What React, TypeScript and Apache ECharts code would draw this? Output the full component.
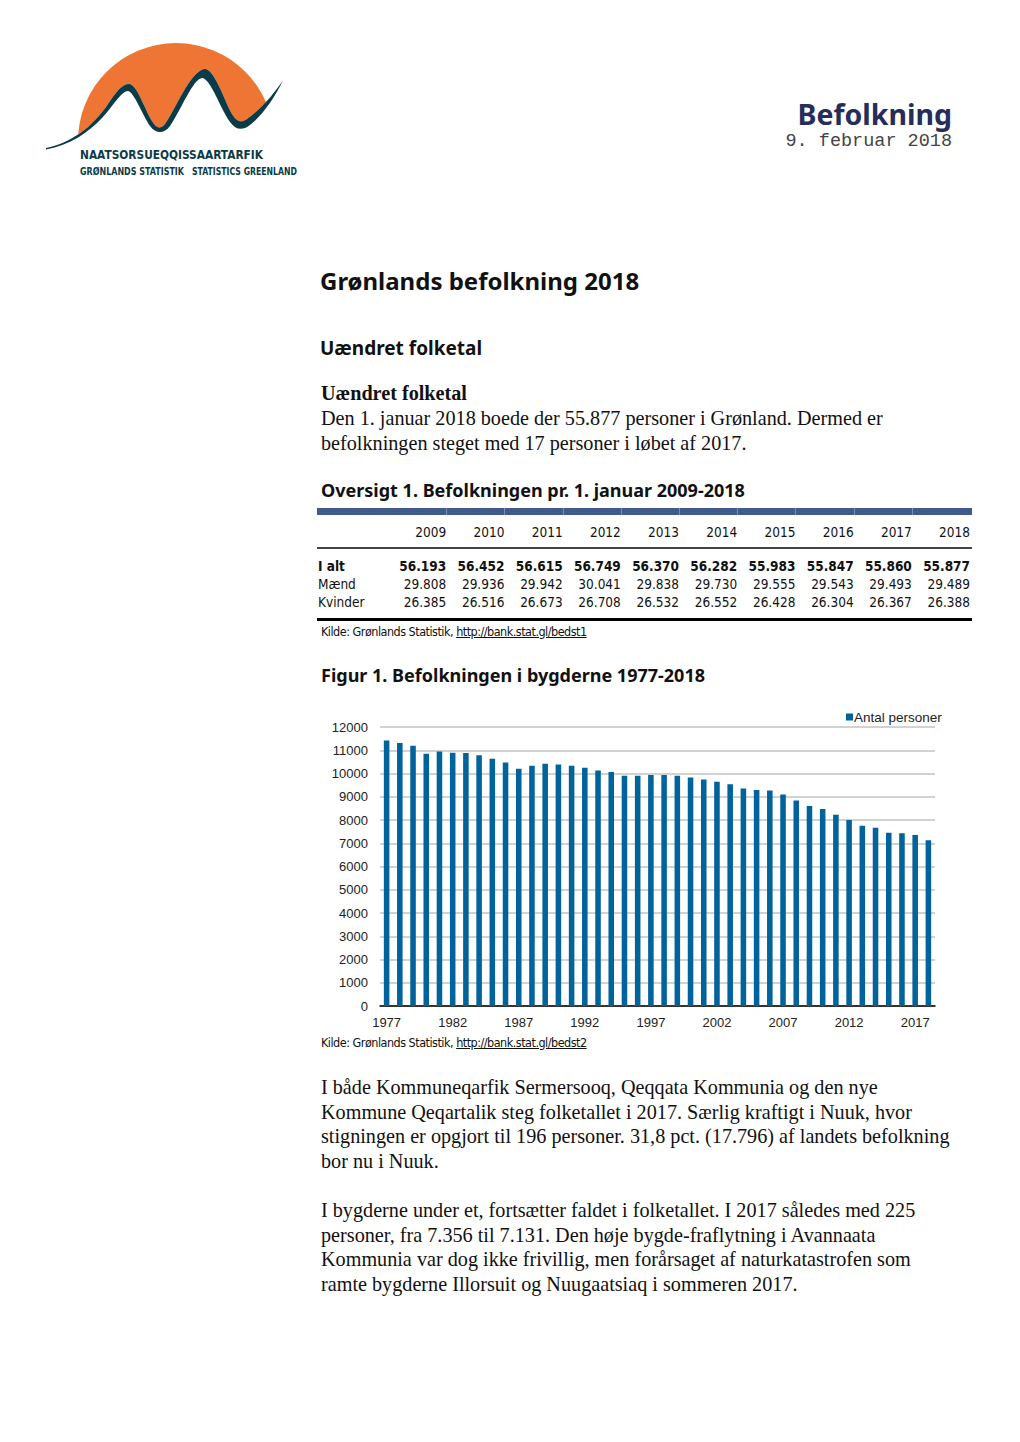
import React, { useEffect, useRef } from "react";
import * as echarts from "echarts";

// ---- Chart data (Figur 1) ----
const years: string[] = [
  "1977","1978","1979","1980","1981","1982","1983","1984","1985","1986",
  "1987","1988","1989","1990","1991","1992","1993","1994","1995","1996",
  "1997","1998","1999","2000","2001","2002","2003","2004","2005","2006",
  "2007","2008","2009","2010","2011","2012","2013","2014","2015","2016",
  "2017","2018",
];
const antalPersoner: number[] = [
  11420, 11310, 11195, 10850, 10950, 10890, 10880, 10790, 10630, 10475,
  10200, 10330, 10420, 10390, 10330, 10245, 10130, 10060, 9900, 9900,
  9940, 9940, 9900, 9830, 9740, 9640, 9540, 9350, 9295, 9265,
  9095, 8835, 8605, 8475, 8230, 8000, 7755, 7670, 7455, 7425,
  7356, 7131,
];
const seriesName = "Antal personer";

// ---- Table data (Oversigt 1) ----
const tableYears: string[] = ["2009","2010","2011","2012","2013","2014","2015","2016","2017","2018"];
const iAlt: string[] = ["56.193","56.452","56.615","56.749","56.370","56.282","55.983","55.847","55.860","55.877"];
const maend: string[] = ["29.808","29.936","29.942","30.041","29.838","29.730","29.555","29.543","29.493","29.489"];
const kvinder: string[] = ["26.385","26.516","26.673","26.708","26.532","26.552","26.428","26.304","26.367","26.388"];

const para1: string[] = [
  "Den 1. januar 2018 boede der 55.877 personer i Grønland. Dermed er",
  "befolkningen steget med 17 personer i løbet af 2017.",
];
const para2: string[] = [
  "I både Kommuneqarfik Sermersooq, Qeqqata Kommunia og den nye",
  "Kommune Qeqartalik steg folketallet i 2017. Særlig kraftigt i Nuuk, hvor",
  "stigningen er opgjort til 196 personer. 31,8 pct. (17.796) af landets befolkning",
  "bor nu i Nuuk.",
];
const para3: string[] = [
  "I bygderne under et, fortsætter faldet i folketallet. I 2017 således med 225",
  "personer, fra 7.356 til 7.131. Den høje bygde-fraflytning i Avannaata",
  "Kommunia var dog ikke frivillig, men forårsaget af naturkatastrofen som",
  "ramte bygderne Illorsuit og Nuugaatsiaq i sommeren 2017.",
];

const SANS = '"Noto Sans", "Open Sans", sans-serif';
const SERIF = '"Liberation Serif", "DejaVu Serif", serif';
const COND = '"DejaVu Sans Condensed", "Liberation Sans Narrow", "Liberation Sans", sans-serif';
const BODY = 20.2;

function Txt(props: {
  x: number; y: number; size: number; font: string; weight?: number | string;
  color?: string; children: React.ReactNode; right?: number; spacing?: number;
}) {
  const lh = Math.round(props.size * 1.2);
  const style: React.CSSProperties = {
    position: "absolute",
    top: props.y - lh / 2,
    lineHeight: lh + "px",
    fontSize: props.size,
    fontFamily: props.font,
    fontWeight: props.weight ?? 400,
    color: props.color ?? "#000",
    whiteSpace: "nowrap",
    letterSpacing: props.spacing,
  };
  if (props.right !== undefined) style.right = 1020 - props.right;
  else style.left = props.x;
  return <div style={style}>{props.children}</div>;
}

function Logo() {
  const upper =
    "M 46 148 C 70 143, 92 128, 108 104 C 116 92, 122 84, 129 84 C 137 84, 145 110, 152 121 " +
    "C 156 128, 160 130, 165 124 C 175 110, 190 72, 204 69 C 214 67, 224 100, 232 114 " +
    "C 237 122, 241 123, 247 119 C 262 108, 274 94, 283 80";
  const band =
    upper +
    " C 276 96, 262 116, 250 125 C 242 131, 236 130, 230 122 C 220 108, 212 82, 203 78 " +
    "C 194 76, 180 112, 170 126 C 164 134, 156 134, 150 126 C 142 114, 134 92, 128 91 " +
    "C 121 91, 112 108, 102 118 C 88 133, 70 145, 46 149.5 Z";
  const sky = upper + " L 283 0 L 46 0 Z";
  return (
    <svg width={320} height={200} style={{ position: "absolute", left: 0, top: 0 }}>
      <defs>
        <clipPath id="sun">
          <circle cx={176} cy={141} r={98} />
        </clipPath>
      </defs>
      <path d={sky} fill="#ee7533" clipPath="url(#sun)" />
      <path d={band} fill="#0c3b48" />
      <text x={80} y={159} fontFamily={COND} fontWeight="bold" fontSize={13}
        fill="#0c3b48" textLength={183} lengthAdjust="spacingAndGlyphs">NAATSORSUEQQISSAARTARFIK</text>
      <text x={80} y={175} fontFamily={COND} fontWeight="bold" fontSize={10.5}
        fill="#0c3b48" textLength={104} lengthAdjust="spacingAndGlyphs">GRØNLANDS STATISTIK</text>
      <text x={192} y={175} fontFamily={COND} fontWeight="bold" fontSize={10.5}
        fill="#0c3b48" textLength={105} lengthAdjust="spacingAndGlyphs">STATISTICS GREENLAND</text>
    </svg>
  );
}

function Table() {
  const colW = 58.2;
  const x0 = 389;
  const rowY = [566, 584, 602];
  const rows = [iAlt, maend, kvinder];
  const labels = ["I alt", "Mænd", "Kvinder"];
  const els: React.ReactNode[] = [];
  tableYears.forEach((y, i) => {
    els.push(
      <Txt key={"h" + i} x={0} right={x0 + colW * (i + 1) - 1} y={532} size={13.5} font={COND} color="#111">{y}</Txt>
    );
  });
  rows.forEach((r, ri) => {
    els.push(
      <Txt key={"l" + ri} x={318} y={rowY[ri]} size={13.5} font={COND}
        weight={ri === 0 ? 700 : 400} color="#111">{labels[ri]}</Txt>
    );
    r.forEach((v, i) => {
      els.push(
        <Txt key={"c" + ri + "_" + i} x={0} right={x0 + colW * (i + 1) - 1} y={rowY[ri]} size={13.5}
          font={COND} weight={ri === 0 ? 700 : 400} color="#111">{v}</Txt>
      );
    });
  });
  const gaps: number[] = [];
  for (let i = 1; i < 10; i++) gaps.push(x0 + colW * i);
  return (
    <>
      <div style={{ position: "absolute", left: 317, top: 508, width: 655, height: 7, background: "#41598b" }} />
      <div style={{ position: "absolute", left: 317, top: 547, width: 655, height: 2, background: "#444" }} />
      <div style={{ position: "absolute", left: 317, top: 618, width: 655, height: 3, background: "#000" }} />
      {gaps.map((g, i) => (
        <div key={"g" + i} style={{ position: "absolute", left: g - 1, top: 508, width: 1, height: 7, background: "#7d8fb5" }} />
      ))}
      {els}
    </>
  );
}

function Chart() {
  const ref = useRef<HTMLDivElement>(null);
  useEffect(() => {
    if (!ref.current) return;
    const chart = echarts.init(ref.current, undefined, { renderer: "svg" });
    chart.setOption({
      animation: false,
      textStyle: { fontFamily: '"Liberation Sans", Arial, sans-serif' },
      legend: {
        data: [seriesName],
        left: 521,
        top: 5,
        icon: "rect",
        itemWidth: 7,
        itemHeight: 7,
        itemGap: 4,
        textStyle: { fontSize: 13.5, color: "#222", padding: [0, 0, 0, -4] },
      },
      grid: { left: 60, top: 27, width: 555, height: 279, containLabel: false },
      xAxis: {
        type: "category",
        data: years,
        boundaryGap: true,
        axisLine: { show: true, lineStyle: { color: "#000", width: 1.5 } },
        axisTick: { show: false },
        axisLabel: { interval: 4, fontSize: 13, color: "#222", margin: 10 },
      },
      yAxis: {
        type: "value",
        min: 0,
        max: 12000,
        interval: 1000,
        axisLine: { show: false },
        axisTick: { show: false },
        axisLabel: { fontSize: 13, color: "#222", margin: 12, formatter: (v: number) => String(v) },
        splitLine: { lineStyle: { color: "#c3c3c3", width: 1.5 } },
      },
      series: [
        {
          name: seriesName,
          type: "bar",
          data: antalPersoner,
          barWidth: "42%",
          itemStyle: { color: "#00639b" },
        },
      ],
    });
    return () => chart.dispose();
  }, []);
  return <div ref={ref} style={{ position: "absolute", left: 320, top: 700, width: 630, height: 345 }} />;
}

export default function App() {
  return (
    <div style={{ position: "absolute", left: 0, top: 0, width: 1020, height: 1442, background: "#fff", overflow: "hidden" }}>
      <Logo />
      <Txt x={0} right={952} y={114} size={28.5} font={SANS} weight={700} color="#262d5a">Befolkning</Txt>
      <Txt x={0} right={952} y={142} size={18.5} font={'"Liberation Mono", "DejaVu Sans Mono", monospace'} color="#444">9. februar 2018</Txt>

      <Txt x={320} y={280} size={24} font={SANS} weight={700} color="#111">Grønlands befolkning 2018</Txt>
      <Txt x={320} y={348} size={19} font={SANS} weight={700} color="#111">Uændret folketal</Txt>
      <Txt x={321} y={393} size={BODY} font={SERIF} weight={700} color="#111">Uændret folketal</Txt>
      {para1.map((l, i) => (
        <Txt key={"p1" + i} x={321} y={418 + i * 24.5} size={BODY} font={SERIF} color="#111">{l}</Txt>
      ))}

      <Txt x={321} y={490} size={18} font={SANS} weight={700} color="#111">Oversigt 1. Befolkningen pr. 1. januar 2009-2018</Txt>
      <Table />
      <Txt x={321} y={631} size={12.5} spacing={-0.5} font={COND} color="#111">
        Kilde: Grønlands Statistik, <span style={{ textDecoration: "underline" }}>http://bank.stat.gl/bedst1</span>
      </Txt>

      <Txt x={321} y={675} size={18} font={SANS} weight={700} color="#111">Figur 1. Befolkningen i bygderne 1977-2018</Txt>
      <Chart />
      <Txt x={321} y={1042} size={12.5} spacing={-0.5} font={COND} color="#111">
        Kilde: Grønlands Statistik, <span style={{ textDecoration: "underline" }}>http://bank.stat.gl/bedst2</span>
      </Txt>

      {para2.map((l, i) => (
        <Txt key={"p2" + i} x={321} y={1087 + i * 24.5} size={BODY} font={SERIF} color="#111">{l}</Txt>
      ))}
      {para3.map((l, i) => (
        <Txt key={"p3" + i} x={321} y={1210 + i * 24.5} size={BODY} font={SERIF} color="#111">{l}</Txt>
      ))}
    </div>
  );
}
